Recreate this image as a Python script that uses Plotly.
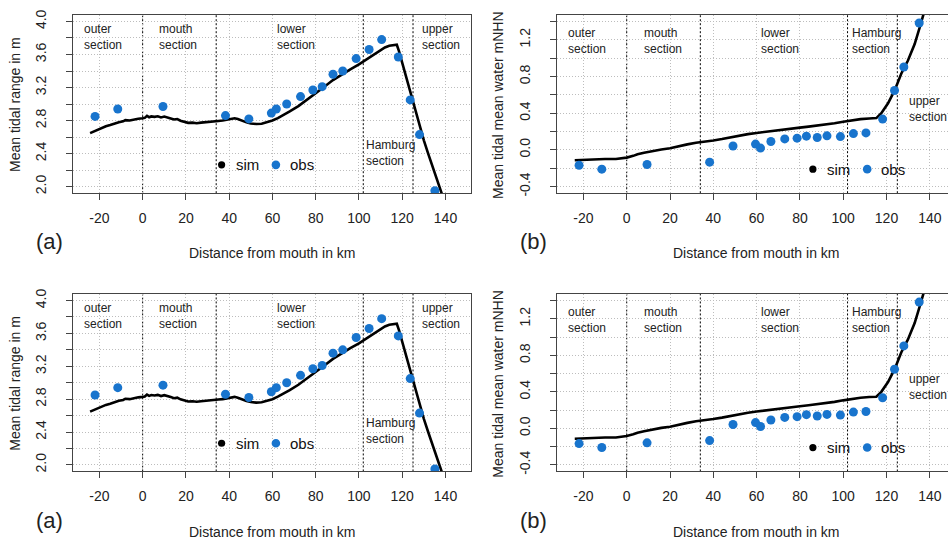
import plotly.graph_objects as go

# ---- data -------------------------------------------------------------
# observation stations, distance from mouth in km
obs_km = [-22.0, -11.5, 9.4, 38.3, 49.1, 59.5, 61.8, 66.6, 73.0, 78.7,
          83.0, 88.0, 92.5, 98.7, 104.7, 110.5, 118.2, 123.7, 128.0, 135.1]
# observed mean tidal range (m)
obs_range = [2.85, 2.94, 2.97, 2.86, 2.82, 2.89, 2.94, 3.00, 3.09, 3.17,
             3.21, 3.36, 3.40, 3.55, 3.66, 3.78, 3.57, 3.05, 2.63, 1.95]
# observed tidal mean water (m NHN)
obs_mw = [-0.167, -0.21, -0.159, -0.134, 0.042, 0.063, 0.02, 0.092, 0.12, 0.128,
          0.15, 0.135, 0.153, 0.145, 0.178, 0.185, 0.336, 0.648, 0.903, 1.383]

# simulated mean tidal range along the estuary
sim_range_km = [-24.3, -22, -19.7, -17, -15, -13, -11, -9, -8, -6, -4, -2, 0, 1, 2, 3, 4,
                5.5, 7, 8.5, 10, 11.5, 13, 14.5, 16, 17.5, 19, 21, 23, 25, 27, 29, 31, 33,
                35, 37, 39, 41, 42.5, 44, 46, 48, 50, 52.5, 55, 57.5, 60, 62.5, 65, 68, 72,
                76, 80, 84, 88, 92, 96, 100, 104, 108, 112, 114, 116, 117.5, 118.5, 120,
                122, 124, 126, 128, 130, 132, 134, 136, 138, 139]
sim_range = [2.648, 2.675, 2.705, 2.73, 2.745, 2.765, 2.78, 2.79, 2.805, 2.80, 2.815, 2.822,
             2.828, 2.832, 2.856, 2.84, 2.85, 2.845, 2.852, 2.838, 2.848, 2.832, 2.825, 2.812,
             2.818, 2.798, 2.79, 2.772, 2.775, 2.768, 2.775, 2.778, 2.786, 2.79, 2.795, 2.80,
             2.81, 2.826, 2.828, 2.818, 2.795, 2.778, 2.765, 2.758, 2.762, 2.778, 2.80, 2.83,
             2.865, 2.91, 2.975, 3.05, 3.13, 3.21, 3.29, 3.36, 3.42, 3.48, 3.55, 3.625, 3.685,
             3.705, 3.717, 3.718, 3.64, 3.50, 3.30, 3.12, 2.93, 2.72, 2.56, 2.40, 2.25, 2.09,
             1.93, 1.86]

# simulated tidal mean water along the estuary
sim_mw_km = [-24, -20, -15, -10, -5, -2, 0, 3, 5, 8, 12, 16, 20, 24, 28, 32, 36, 40, 44, 48,
             52, 56, 60, 64, 68, 72, 76, 80, 84, 88, 92, 96, 100, 104, 108, 112, 115.3, 117.6,
             120.7, 123.8, 126.8, 129.9, 133.0, 135.3, 138.4]
sim_mw = [-0.113, -0.108, -0.102, -0.10, -0.10, -0.095, -0.084, -0.065, -0.048, -0.032,
          -0.012, 0.005, 0.018, 0.035, 0.06, 0.078, 0.088, 0.103, 0.118, 0.137, 0.155, 0.172,
          0.185, 0.198, 0.21, 0.22, 0.232, 0.243, 0.254, 0.265, 0.277, 0.29, 0.307, 0.322,
          0.335, 0.343, 0.347, 0.40, 0.508, 0.651, 0.831, 0.974, 1.154, 1.334, 1.585]

# section boundaries (km) and x tick positions
section_bounds = [0, 34, 102, 125]
x_ticks = [-20, 0, 20, 40, 60, 80, 100, 120, 140]

# ---- styling ------------------------------------------------------------
W, H = 948, 545
FONT = "Liberation Sans, Arial, sans-serif"
BLUE = "#1874CD"
AXC = "#444444"
GRID = "#bdbdbd"
DOTS = "1px,2px"
SECTION_DOTS = "2px,2px"


def px_x(p):
    return p / W


def px_y(p):
    return 1 - p / H


def yticks(lo, n):
    vals, txt = [], []
    for k in range(n):
        v = round(lo + 0.2 * k, 1)
        if abs(v) < 1e-9:
            v = 0.0
        vals.append(v)
        txt.append(f"{v:.1f}" if k % 2 == 0 else "")
    return vals, txt


panels = [
    dict(sim_x=sim_range_km, sim_y=sim_range, obs_y=obs_range,
         yrange=[1.92, 4.08], ytick=yticks(2.0, 11),
         ytitle="Mean tidal range in m", letter="(a)",
         left=73.3, right=471.0, xmax=151.8, mirror_y=True,
         ytitle_x=15, letter_x=49, xtitle_x=272.5,
         labels=[("outer<br>section", -28.0, 4.02), ("mouth<br>section", 6.5, 4.02),
                 ("lower<br>section", 61.0, 4.02), ("Hamburg<br>section", 102.2, 2.615),
                 ("upper<br>section", 128.0, 4.02)],
         legend=(36.5, 2.263)),
    dict(sim_x=sim_mw_km, sim_y=sim_mw, obs_y=obs_mw,
         yrange=[-0.472, 1.472], ytick=yticks(-0.4, 10),
         ytitle="Mean tidal mean water mNHN", letter="(b)",
         left=557.3, right=948.0, xmax=148.4, mirror_y=False,
         ytitle_x=498, letter_x=533, xtitle_x=756.8,
         labels=[("outer<br>section", -28.0, 1.372), ("mouth<br>section", 7.0, 1.372),
                 ("lower<br>section", 61.0, 1.372), ("Hamburg<br>section", 103.2, 1.372),
                 ("upper<br>section", 129.6, 0.635)],
         legend=(86.0, -0.21)),
]

rows = [dict(top=10.0, bottom=191.0, dy=0.0), dict(top=293.3, bottom=473.4, dy=283.0)]

fig = go.Figure()
layout = {}
annotations = []
shapes = []

idx = 0
for row in rows:
    for p in panels:
        idx += 1
        xa = f"x{idx}" if idx > 1 else "x"
        ya = f"y{idx}" if idx > 1 else "y"
        xkey = f"xaxis{idx}" if idx > 1 else "xaxis"
        ykey = f"yaxis{idx}" if idx > 1 else "yaxis"

        # simulated profile
        fig.add_trace(go.Scatter(x=p["sim_x"], y=p["sim_y"], mode="lines",
                                 line=dict(color="black", width=2.6),
                                 xaxis=xa, yaxis=ya, showlegend=False, name="sim",
                                 cliponaxis=True))
        # observed values
        fig.add_trace(go.Scatter(x=obs_km, y=p["obs_y"], mode="markers",
                                 marker=dict(color=BLUE, size=9),
                                 xaxis=xa, yaxis=ya, showlegend=False, name="obs",
                                 cliponaxis=True))

        layout[xkey] = dict(
            domain=[px_x(p["left"]), px_x(p["right"])],
            range=[-32.06, p["xmax"]], anchor=ya,
            tickmode="array", tickvals=x_ticks, ticktext=[str(v) for v in x_ticks],
            ticks="outside", ticklen=6, tickcolor=AXC, tickwidth=1,
            ticklabelstandoff=6,
            showline=True, linecolor=AXC, linewidth=1, mirror=True,
            showgrid=True, gridcolor=GRID, griddash=DOTS, gridwidth=1,
            zeroline=False, tickfont=dict(family=FONT, size=14, color="#222"),
        )
        layout[ykey] = dict(
            domain=[px_y(row["bottom"]), px_y(row["top"])],
            range=p["yrange"], anchor=xa,
            tickmode="array", tickvals=p["ytick"][0], ticktext=p["ytick"][1],
            tickangle=-90,
            ticks="outside", ticklen=6, tickcolor=AXC, tickwidth=1,
            ticklabelstandoff=15,
            showline=True, linecolor=AXC, linewidth=1, mirror=p["mirror_y"],
            showgrid=True, gridcolor=GRID, griddash=DOTS, gridwidth=1,
            zeroline=False, tickfont=dict(family=FONT, size=14, color="#222"),
        )

        # section boundaries
        for b in section_bounds:
            shapes.append(dict(type="line", xref=xa, yref=f"{ya} domain",
                               x0=b, x1=b, y0=0, y1=1, layer="below",
                               line=dict(color="black", width=1, dash=SECTION_DOTS)))

        # section names
        for txt, xk, yv in p["labels"]:
            annotations.append(dict(text=txt, xref=xa, yref=ya, x=xk, y=yv,
                                    xanchor="left", yanchor="top", showarrow=False,
                                    align="left", font=dict(family=FONT, size=12, color="#222")))

        # legend
        lx, ly = p["legend"]
        shapes.append(dict(type="circle", xref=xa, yref=ya, xsizemode="pixel",
                           ysizemode="pixel", xanchor=lx, yanchor=ly,
                           x0=-3.6, x1=3.6, y0=-3.6, y1=3.6,
                           fillcolor="black", line=dict(width=0)))
        shapes.append(dict(type="circle", xref=xa, yref=ya, xsizemode="pixel",
                           ysizemode="pixel", xanchor=lx, yanchor=ly,
                           x0=54.3 - 4.3, x1=54.3 + 4.3, y0=-4.3, y1=4.3,
                           fillcolor=BLUE, line=dict(width=0)))
        annotations.append(dict(text="sim", xref=xa, yref=ya, x=lx, y=ly, xshift=12,
                                xanchor="left", yanchor="middle", showarrow=False,
                                font=dict(family=FONT, size=15, color="#111")))
        annotations.append(dict(text="obs", xref=xa, yref=ya, x=lx, y=ly, xshift=66,
                                xanchor="left", yanchor="middle", showarrow=False,
                                font=dict(family=FONT, size=15, color="#111")))

        # axis titles and panel letter
        mid_y = (row["top"] + row["bottom"]) / 2
        annotations.append(dict(text=p["ytitle"], xref="paper", yref="paper",
                                x=px_x(p["ytitle_x"]), y=px_y(mid_y + 1),
                                textangle=-90, showarrow=False, xanchor="center",
                                yanchor="middle", font=dict(family=FONT, size=14, color="#222")))
        annotations.append(dict(text="Distance from mouth in km", xref="paper", yref="paper",
                                x=px_x(p["xtitle_x"]), y=px_y(251.7 + row["dy"]),
                                showarrow=False, xanchor="center", yanchor="middle",
                                font=dict(family=FONT, size=14, color="#222")))
        annotations.append(dict(text=p["letter"], xref="paper", yref="paper",
                                x=px_x(p["letter_x"]), y=px_y(240 + row["dy"]),
                                showarrow=False, xanchor="center", yanchor="middle",
                                font=dict(family=FONT, size=22, color="#222")))

fig.update_layout(
    width=W, height=H, margin=dict(l=0, r=0, t=0, b=0),
    paper_bgcolor="white", plot_bgcolor="white",
    showlegend=False, annotations=annotations, shapes=shapes,
    font=dict(family=FONT), **layout,
)

fig.write_html("out.html")
